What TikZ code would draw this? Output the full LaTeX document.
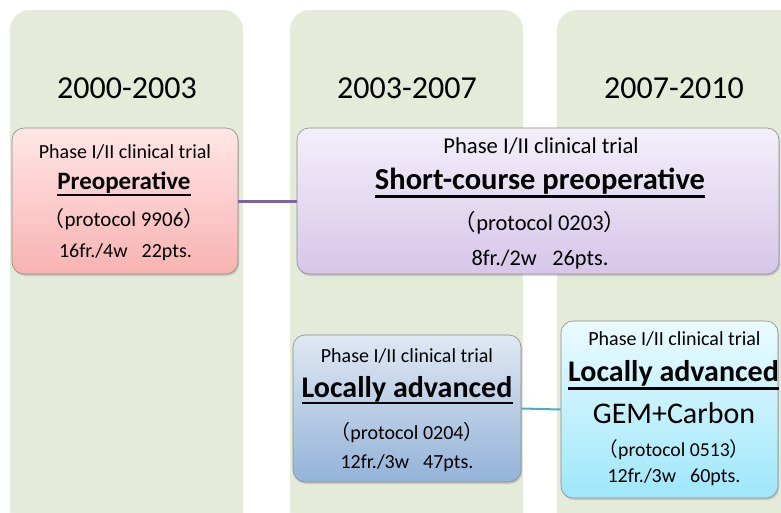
\documentclass[tikz,border=0pt]{standalone}
\usepackage{fontspec}
\setmainfont{Carlito}
\newfontfamily\cjk{Noto Sans CJK JP}
\usetikzlibrary{shadows}
\newcommand\setfs[1]{\fontsize{#1}{#1}\selectfont}
\newcommand\lpar{{\cjk （}}
\newcommand\rpar{{\cjk ）}}
\definecolor{colbg}{HTML}{E4EBD9}
\definecolor{pinkT}{HTML}{FFE6E6}
\definecolor{pinkB}{HTML}{F8B3B1}
\definecolor{lavT}{HTML}{F3EFFA}
\definecolor{lavB}{HTML}{D7C6E9}
\definecolor{bluT}{HTML}{DFE8F3}
\definecolor{bluB}{HTML}{94B3D8}
\definecolor{cyaT}{HTML}{EAFBFF}
\definecolor{cyaB}{HTML}{9EE7FA}
\definecolor{purp}{HTML}{8064A2}
\definecolor{teal}{HTML}{4BACC6}
\begin{document}
\begin{tikzpicture}[x=1pt,y=-1pt,
  col/.style={fill=colbg, rounded corners=20pt},
  box/.style={draw=black!45, line width=0.6pt, rounded corners=12pt, inner sep=0pt,
    drop shadow={opacity=0.3, shadow xshift=1.2pt, shadow yshift=-2pt}},
  txt/.style={inner sep=0pt, anchor=base, text=black},
  year/.style={txt, font=\setfs{32}},
  phase/.style={txt, font=\setfs{20}},
  big/.style={txt, font=\bfseries\setfs{30}},
  ul/.style={line width=2.6pt, black},
]
\useasboundingbox (0,0) rectangle (781,512);
\begin{scope}
\clip (0,0) rectangle (781,512);
\fill[col] (10,10) rectangle (243,530);
\fill[col] (290,10) rectangle (523,530);
\fill[col] (557,10) rectangle (810,530);

\node[year] (y1) at (127,98) {2000-2003};
\node[year] (y2) at (407,98) {2003-2007};
\node[year] (y3) at (674,98) {2007-2010};

% boxes
\node[box, top color=pinkT, bottom color=pinkB, minimum width=226pt, minimum height=146pt] (b1) at (125,201) {};
\node[box, top color=lavT, bottom color=lavB, minimum width=482pt, minimum height=146pt] (b2) at (538,201) {};
\node[box, top color=bluT, bottom color=bluB, minimum width=228pt, minimum height=147pt] (b3) at (407,408.5) {};
\node[box, top color=cyaT, bottom color=cyaB, minimum width=217pt, minimum height=177pt] (b4) at (669.5,409.5) {};

\draw[purp, line width=3pt] (b1.east) -- (b2.west);
\draw[teal, line width=2pt] (b3.east) -- (b4.west);

% box 1
\node[phase] (b1a) at (125,158.3) {Phase I/II clinical trial};
\node[txt, font=\bfseries\setfs{25}] (b1b) at (124,189.3) {Preoperative};
\draw[ul, line width=2.3pt] ([yshift=-6pt]b1b.base west) -- ([yshift=-6pt]b1b.base east);
\node[txt, font=\setfs{21}] (b1c) at (124,226.5) {\lpar protocol 9906\rpar};
\node[phase] (b1d) at (125.5,257.3) {16fr./4w\hspace{0.7em}22pts.};

% box 2
\node[txt, font=\setfs{22.7}] (b2a) at (541,153.3) {Phase I/II clinical trial};
\node[big, font=\bfseries\setfs{30.5}] (b2b) at (540,189.3) {Short-course preoperative};
\draw[ul] ([yshift=-7pt]b2b.base west) -- ([yshift=-7pt]b2b.base east);
\node[txt, font=\setfs{22.5}] (b2c) at (540,230) {\lpar protocol 0203\rpar};
\node[txt, font=\setfs{22.3}] (b2d) at (540,265) {8fr./2w\hspace{0.7em}26pts.};

% box 3
\node[phase] (b3a) at (407,362.7) {Phase I/II clinical trial};
\node[big] (b3b) at (407,397.3) {Locally advanced};
\draw[ul] ([yshift=-5.5pt]b3b.base west) -- ([yshift=-5.5pt]b3b.base east);
\node[phase] (b3c) at (407,439) {\lpar protocol 0204\rpar};
\node[phase] (b3d) at (407,468) {12fr./3w\hspace{0.7em}47pts.};

% box 4
\node[phase] (b4a) at (674.5,345) {Phase I/II clinical trial};
\node[big] (b4b) at (673.5,381.7) {Locally advanced};
\draw[ul] ([yshift=-6.5pt]b4b.base west) -- ([yshift=-6.5pt]b4b.base east);
\node[txt, font=\setfs{30}] (b4c) at (674,423.3) {GEM+Carbon};
\node[txt, font=\setfs{19.7}] (b4d) at (674,456.7) {\lpar protocol 0513\rpar};
\node[phase] (b4e) at (674,482.7) {12fr./3w\hspace{0.7em}60pts.};
\end{scope}
\end{tikzpicture}
\end{document}
